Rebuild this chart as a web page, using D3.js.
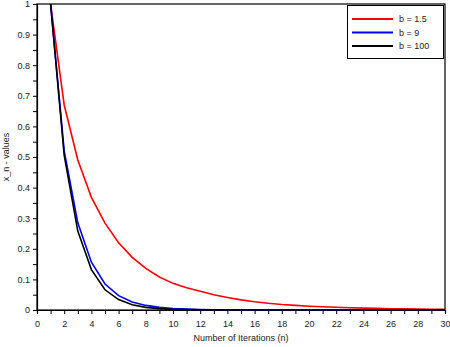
<!DOCTYPE html>
<html>
<head>
<meta charset="utf-8">
<script src="https://cdn.jsdelivr.net/npm/d3@7"></script>
<style>
  body { margin: 0; background: #fff; }
  text { font-family: "Liberation Sans", Arial, sans-serif; font-size: 9px; fill: #222; }
</style>
</head>
<body>
<div id="okvir"></div>
<script>
// iteracije n = 1..30
const iteracije = d3.range(1, 31)

const serijaB15 = [1, 0.67, 0.49, 0.368, 0.284, 0.220, 0.172, 0.136, 0.108, 0.087,
  0.073, 0.061, 0.050, 0.041, 0.033, 0.027, 0.022, 0.018, 0.015, 0.0125,
  0.0105, 0.0088, 0.0074, 0.0062, 0.0052, 0.0043, 0.0036, 0.0030, 0.0025, 0.0021]
const serijaB9 = [1, 0.52, 0.285, 0.156, 0.085, 0.047, 0.026, 0.015, 0.0085, 0.005,
  0.003, 0.0017, 0.001, 0.0006, 0.0003, 0.0002, 0.0001, 0, 0, 0,
  0, 0, 0, 0, 0, 0, 0, 0, 0, 0]
const serijaB100 = [1, 0.505, 0.258, 0.132, 0.066, 0.034, 0.017, 0.0087, 0.0044, 0.0022,
  0.0011, 0.0006, 0.0003, 0.0001, 0, 0, 0, 0, 0, 0,
  0, 0, 0, 0, 0, 0, 0, 0, 0, 0]

const oznakeLegende = ["b = 1.5", "b = 9", "b = 100"]
const boje = ["#ff0000", "#0000ff", "#000000"]
const serije = [serijaB15, serijaB9, serijaB100]

const xTickovi = d3.range(0, 31, 2)
const yTickovi = d3.range(0, 1.01, 0.1)

function crtaj() {
  const dimenzije = { sirina: 450, visina: 347, lijevo: 37, desno: 445, gore: 4, dolje: 310 }

  const okvir = d3.select("#okvir").append("svg")
    .attr("width", dimenzije.sirina)
    .attr("height", dimenzije.visina)

  const xScale = d3.scaleLinear().domain([0, 30]).range([dimenzije.lijevo, dimenzije.desno])
  const yScale = d3.scaleLinear().domain([0, 1]).range([dimenzije.dolje, dimenzije.gore])

  // okvir grafa
  okvir.append("rect")
    .attr("x", dimenzije.lijevo)
    .attr("y", dimenzije.gore)
    .attr("width", dimenzije.desno - dimenzije.lijevo)
    .attr("height", dimenzije.dolje - dimenzije.gore)
    .attr("fill", "none")
    .attr("stroke", "#000")
    .attr("stroke-width", 1.2)

  // x os
  const xOs = okvir.append("g")
    .attr("transform", `translate(0, ${dimenzije.dolje})`)
    .call(d3.axisBottom(xScale).tickValues(d3.range(0, 31, 1)).tickSize(4).tickFormat(d => d % 2 === 0 ? d : ""))
  xOs.select(".domain").attr("stroke-width", 1.2)
  xOs.selectAll("text").attr("dy", "1.1em").style("font-size", "9px")

  // y os
  const yOs = okvir.append("g")
    .attr("transform", `translate(${dimenzije.lijevo}, 0)`)
    .call(d3.axisLeft(yScale).tickValues(d3.range(0, 1.001, 0.05)).tickSize(4)
      .tickFormat(d => Math.round(d * 100) % 10 === 0 ? d3.format("~g")(+d.toFixed(1)) : ""))
  yOs.select(".domain").attr("stroke-width", 1.2)
  yOs.selectAll("text").attr("x", -7).style("font-size", "9px")

  okvir.selectAll(".tick line").attr("stroke", "#000")
  okvir.selectAll(".tick text").attr("fill", "#222")

  // linije
  const linija = d3.line()
    .x((d, i) => xScale(iteracije[i]))
    .y(d => yScale(d))

  okvir.selectAll(".serija")
    .data(serije)
    .enter().append("path")
      .attr("class", "serija")
      .attr("d", d => linija(d))
      .attr("fill", "none")
      .attr("stroke", (d, i) => boje[i])
      .attr("stroke-width", 1.6)

  // naslovi osi
  okvir.append("text")
    .attr("x", (dimenzije.lijevo + dimenzije.desno) / 2)
    .attr("y", 341)
    .attr("text-anchor", "middle")
    .text("Number of Iterations (n)")

  okvir.append("text")
    .attr("transform", `translate(9, ${(dimenzije.gore + dimenzije.dolje) / 2}) rotate(-90)`)
    .attr("text-anchor", "middle")
    .text("x_n - values")

  // legenda
  const legenda = okvir.append("g")
  legenda.append("rect")
    .attr("x", 347.5).attr("y", 5.5)
    .attr("width", 96).attr("height", 53)
    .attr("fill", "#fff").attr("stroke", "#000").attr("stroke-width", 1)

  const stavke = legenda.selectAll(".stavka")
    .data(oznakeLegende)
    .enter().append("g")
      .attr("transform", (d, i) => `translate(0, ${19 + i * 13.5})`)
  stavke.append("line")
    .attr("x1", 352).attr("x2", 393)
    .attr("stroke", (d, i) => boje[i])
    .attr("stroke-width", 2)
  stavke.append("text")
    .attr("x", 399).attr("y", 3)
    .text(d => d)
}
crtaj()
</script>
</body>
</html>
